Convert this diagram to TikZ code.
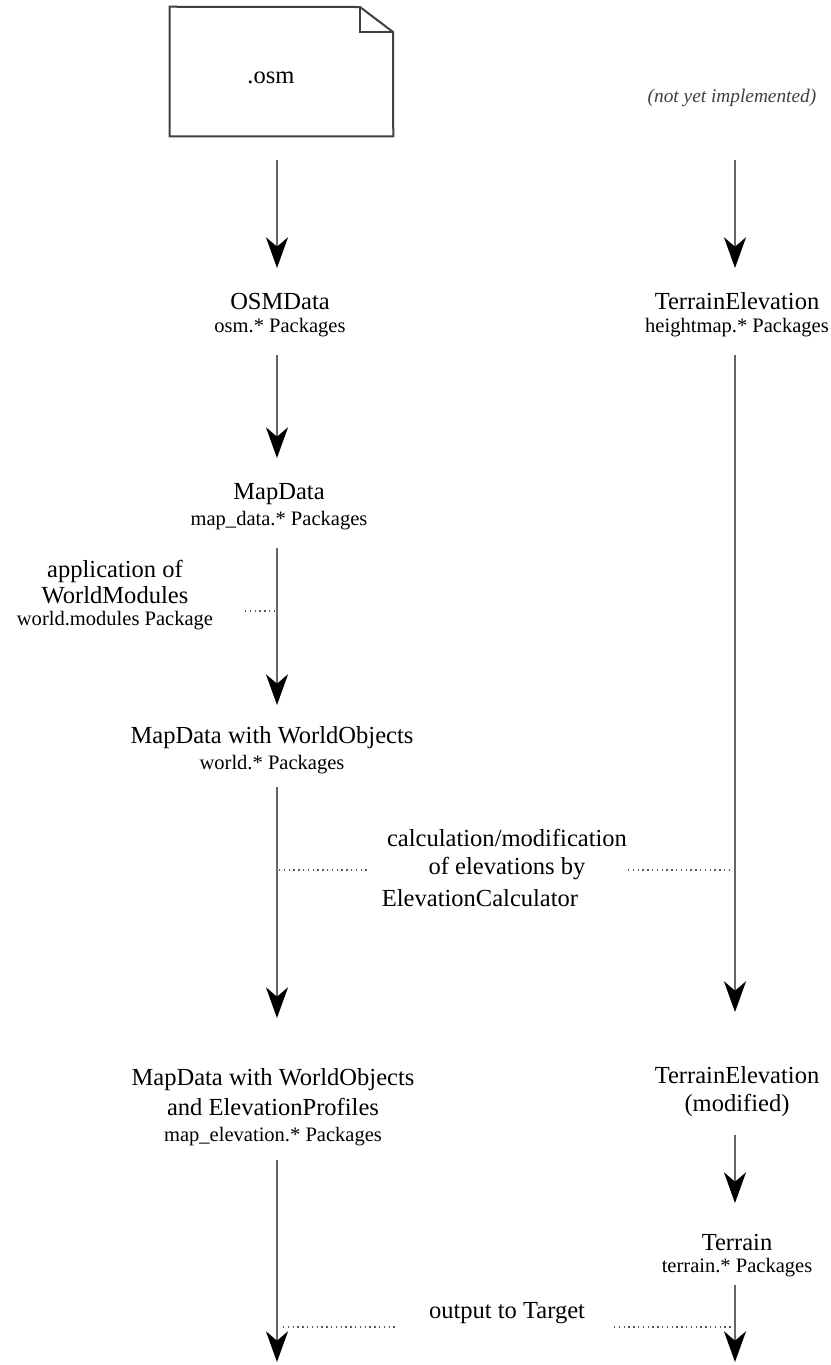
\documentclass[tikz,border=0pt]{standalone}
\usepackage{fontspec}
\setmainfont{Liberation Serif}
\usetikzlibrary{arrows.meta}
\begin{document}
\begin{tikzpicture}[x=0.75pt,y=-0.75pt,
  main/.style={inner sep=0pt,font=\fontsize{18.4}{22}\selectfont},
  sub/.style={inner sep=0pt,font=\fontsize{15.4}{18}\selectfont},
  note/.style={inner sep=0pt,font=\fontsize{14.5}{17}\selectfont\itshape, text=black!75},
  flow/.style={draw=black!60,line width=1.8pt,-{Stealth[length=23pt,width=16.5pt,inset=7pt,black]}},
  hint/.style={draw=black!65,line width=1pt,dash pattern=on 1pt off 2.6pt},
  docshape/.style={draw=black!75,line width=1.5pt}]
\useasboundingbox (0,0) rectangle (831,1365);

% .osm document
\node[minimum width=167.25pt,minimum height=96.75pt,inner sep=0pt] (osm) at (281.5,71.5) {};
\draw[docshape] (osm.north west) -- (360,7) -- (393,32) -- (osm.south east) -- (osm.south west) -- cycle;
\draw[docshape] (360,7) -- (360,32) -- (393,32);
\node[main] (osmtext) at (271,78) {.osm};

\node[note] (notyet) at (732,98) {(not yet implemented)};

% left column
\node[main] (osmdata) at (280,301) {OSMData};
\node[sub] (osmpkg) at (280,328) {osm.* Packages};
\node[main] (mapdata) at (279,494) {MapData};
\node[sub] (mappkg) at (279,521) {map\_data.* Packages};
\node[main] (mwo) at (272,738) {MapData with WorldObjects};
\node[sub] (mwopkg) at (272,765) {world.* Packages};
\node[main] (mwe1) at (273,1080) {MapData with WorldObjects};
\node[main] (mwe2) at (273,1107) {and ElevationProfiles};
\node[sub] (mwepkg) at (273,1137) {map\_elevation.* Packages};

% application of world modules
\node[main] (app1) at (115,571) {application of};
\node[main] (app2) at (115,595) {WorldModules};
\node[sub] (apppkg) at (115,621) {world.modules Package};

% right column
\node[main] (te) at (737,301) {TerrainElevation};
\node[sub] (tepkg) at (737,328) {heightmap.* Packages};
\node[main] (tem) at (737,1075) {TerrainElevation};
\node[main] (temod) at (737,1105) {(modified)};
\node[main] (terrain) at (737,1242) {Terrain};
\node[sub] (terrainpkg) at (737,1268) {terrain.* Packages};

% middle labels
\node[main] (calc1) at (507,838) {calculation/modification};
\node[main] (calc2) at (507,868) {of elevations by};
\node[main] (calc3) at (480,898) {ElevationCalculator};
\node[main] (output) at (507,1313) {output to Target};

% coordinates for free ends
\coordinate (l1s) at (277,160); \coordinate (l1e) at (277,268);
\coordinate (r1s) at (735,160); \coordinate (r1e) at (735,268);
\coordinate (l2s) at (277,355); \coordinate (l2e) at (277,458);
\coordinate (l3s) at (277,548); \coordinate (l3e) at (277,705);
\coordinate (l4s) at (277,787); \coordinate (l4e) at (277,1018);
\coordinate (r2s) at (735,355); \coordinate (r2e) at (735,1012);
\coordinate (r3s) at (735,1135); \coordinate (r3e) at (735,1203);
\coordinate (r4s) at (735,1285); \coordinate (r4e) at (735,1362);
\coordinate (l5s) at (277,1160); \coordinate (l5e) at (277,1362);

\draw[flow] (l1s) -- (l1e);
\draw[flow] (r1s) -- (r1e);
\draw[flow] (l2s) -- (l2e);
\draw[flow] (l3s) -- (l3e);
\draw[flow] (l4s) -- (l4e);
\draw[flow] (r2s) -- (r2e);
\draw[flow] (r3s) -- (r3e);
\draw[flow] (r4s) -- (r4e);
\draw[flow] (l5s) -- (l5e);

% dotted hints
\coordinate (a1) at (245,611); \coordinate (a2) at (275,611);
\coordinate (c1) at (279,870); \coordinate (c2) at (370,870);
\coordinate (c3) at (628,870); \coordinate (c4) at (733,870);
\coordinate (o1) at (283,1327); \coordinate (o2) at (397,1327);
\coordinate (o3) at (614,1327); \coordinate (o4) at (733,1327);
\draw[hint] (a1) -- (a2);
\draw[hint] (c1) -- (c2);
\draw[hint] (c3) -- (c4);
\draw[hint] (o1) -- (o2);
\draw[hint] (o3) -- (o4);
\end{tikzpicture}
\end{document}
